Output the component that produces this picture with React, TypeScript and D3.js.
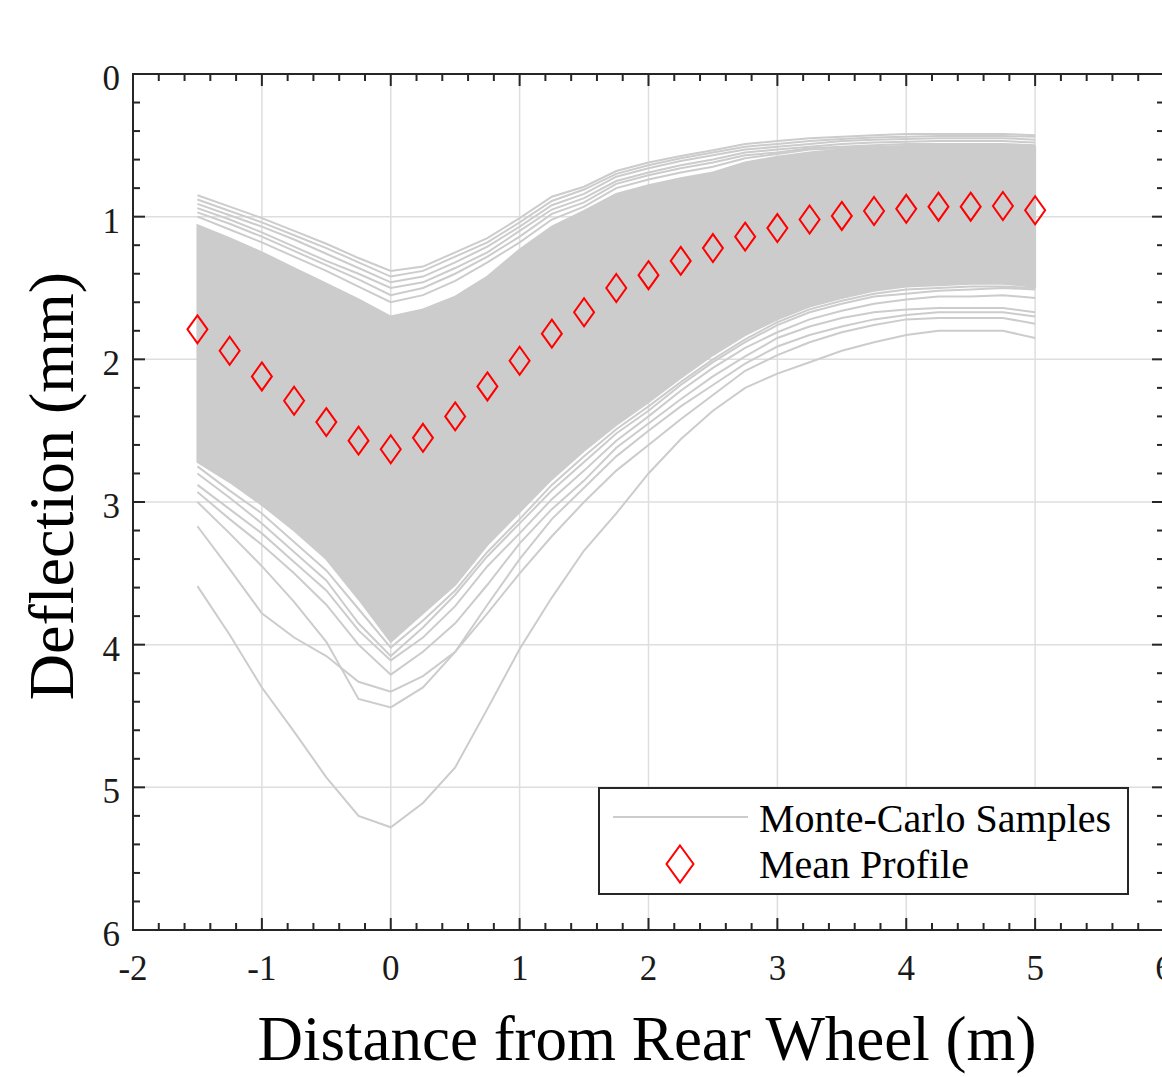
import React from 'react';
import * as d3 from 'd3';

// distance from rear wheel (m) at which every profile is sampled
const distances = [-1.5, -1.25, -1, -0.75, -0.5, -0.25, 0, 0.25, 0.5, 0.75, 1, 1.25, 1.5, 1.75, 2, 2.25, 2.5, 2.75, 3, 3.25, 3.5, 3.75, 4, 4.25, 4.5, 4.75, 5];

// mean deflection profile (mm)
const meanProfile = [1.79, 1.94, 2.12, 2.29, 2.44, 2.57, 2.63, 2.55, 2.40, 2.19, 2.01, 1.82, 1.67, 1.50, 1.41, 1.31, 1.22, 1.14, 1.08, 1.02, 0.995, 0.96, 0.945, 0.93, 0.93, 0.925, 0.955];

// dense core of the Monte-Carlo samples (upper / lower edge)
const bandUpper = [1.06, 1.15, 1.25, 1.36, 1.47, 1.58, 1.70, 1.65, 1.56, 1.42, 1.23, 1.07, 0.96, 0.84, 0.78, 0.73, 0.69, 0.62, 0.58, 0.55, 0.53, 0.52, 0.51, 0.505, 0.505, 0.505, 0.51];
const bandLower = [2.72, 2.86, 3.02, 3.20, 3.40, 3.68, 3.98, 3.78, 3.58, 3.30, 3.07, 2.84, 2.64, 2.46, 2.30, 2.13, 1.97, 1.83, 1.72, 1.63, 1.57, 1.52, 1.49, 1.48, 1.47, 1.47, 1.49];

// individual samples visible outside the dense core
const upperSample1 = [0.85, 0.93, 1.01, 1.10, 1.19, 1.29, 1.38, 1.35, 1.25, 1.15, 1.01, 0.86, 0.79, 0.68, 0.62, 0.575, 0.535, 0.49, 0.47, 0.45, 0.44, 0.43, 0.42, 0.42, 0.42, 0.42, 0.43];
const upperSample2 = [0.88, 0.96, 1.04, 1.13, 1.22, 1.32, 1.42, 1.38, 1.28, 1.18, 1.04, 0.89, 0.81, 0.70, 0.64, 0.59, 0.55, 0.51, 0.49, 0.47, 0.455, 0.445, 0.44, 0.435, 0.435, 0.435, 0.44];
const upperSample3 = [0.91, 0.99, 1.07, 1.16, 1.26, 1.36, 1.46, 1.42, 1.32, 1.21, 1.07, 0.92, 0.84, 0.72, 0.66, 0.61, 0.57, 0.53, 0.51, 0.49, 0.47, 0.46, 0.455, 0.45, 0.45, 0.45, 0.46];
const upperSample4 = [0.94, 1.02, 1.11, 1.21, 1.31, 1.40, 1.50, 1.46, 1.36, 1.25, 1.10, 0.95, 0.87, 0.75, 0.69, 0.64, 0.60, 0.55, 0.53, 0.51, 0.49, 0.48, 0.475, 0.47, 0.47, 0.47, 0.48];
const upperSample5 = [0.97, 1.05, 1.14, 1.24, 1.34, 1.44, 1.55, 1.50, 1.40, 1.28, 1.14, 0.98, 0.90, 0.77, 0.71, 0.66, 0.62, 0.57, 0.55, 0.52, 0.51, 0.50, 0.49, 0.49, 0.49, 0.49, 0.50];
const upperSample6 = [1.00, 1.09, 1.18, 1.28, 1.38, 1.49, 1.60, 1.55, 1.45, 1.32, 1.18, 1.02, 0.93, 0.80, 0.74, 0.69, 0.65, 0.59, 0.56, 0.53, 0.52, 0.51, 0.505, 0.50, 0.50, 0.50, 0.505];

const lowerSample1 = [3.59, 3.93, 4.30, 4.61, 4.93, 5.20, 5.28, 5.11, 4.86, 4.45, 4.03, 3.67, 3.34, 3.08, 2.80, 2.56, 2.36, 2.20, 2.10, 2.02, 1.94, 1.88, 1.83, 1.80, 1.80, 1.80, 1.85];
const lowerSample2 = [3.17, 3.47, 3.78, 3.95, 4.08, 4.26, 4.33, 4.22, 4.05, 3.78, 3.50, 3.24, 3.00, 2.78, 2.60, 2.42, 2.25, 2.08, 1.97, 1.88, 1.81, 1.76, 1.72, 1.71, 1.71, 1.71, 1.75];
const lowerSample3 = [3.00, 3.22, 3.45, 3.70, 3.98, 4.38, 4.44, 4.30, 4.05, 3.72, 3.40, 3.12, 2.90, 2.68, 2.50, 2.33, 2.18, 2.03, 1.91, 1.83, 1.77, 1.72, 1.69, 1.67, 1.67, 1.67, 1.70];
const lowerSample4 = [2.93, 3.12, 3.30, 3.50, 3.72, 4.00, 4.21, 4.05, 3.85, 3.58, 3.29, 3.05, 2.85, 2.62, 2.45, 2.28, 2.12, 1.98, 1.85, 1.77, 1.71, 1.67, 1.65, 1.64, 1.64, 1.64, 1.67];
const lowerSample5 = [2.88, 3.05, 3.22, 3.42, 3.62, 3.90, 4.11, 3.95, 3.73, 3.45, 3.22, 2.98, 2.78, 2.57, 2.40, 2.22, 2.06, 1.92, 1.81, 1.72, 1.66, 1.61, 1.58, 1.56, 1.56, 1.55, 1.57];
const lowerSample6 = [2.80, 2.97, 3.15, 3.35, 3.55, 3.85, 4.08, 3.88, 3.65, 3.38, 3.15, 2.92, 2.72, 2.52, 2.36, 2.18, 2.02, 1.88, 1.76, 1.67, 1.61, 1.56, 1.54, 1.52, 1.51, 1.50, 1.51];
const lowerSample7 = [2.75, 2.92, 3.08, 3.28, 3.48, 3.75, 4.02, 3.83, 3.62, 3.35, 3.12, 2.88, 2.68, 2.49, 2.33, 2.16, 2.00, 1.86, 1.74, 1.65, 1.59, 1.54, 1.51, 1.50, 1.49, 1.49, 1.50];

const samples = [
  upperSample1, upperSample2, upperSample3, upperSample4, upperSample5, upperSample6,
  lowerSample1, lowerSample2, lowerSample3, lowerSample4, lowerSample5, lowerSample6, lowerSample7,
];

const xTicks = [-2, -1, 0, 1, 2, 3, 4, 5, 6];
const yTicks = [0, 1, 2, 3, 4, 5, 6];

const W = 1162;
const H = 1077;
const SERIF = '"Liberation Serif", "Times New Roman", serif';
const GRAY = '#cccccc';
const AXIS = '#262626';

const App = () => {
  const x = d3.scaleLinear().domain([-2, 6]).range([133, 1164]);
  const y = d3.scaleLinear().domain([0, 6]).range([74, 930]);

  const line = d3.line<number>()
    .x((d, i) => x(distances[i]))
    .y(d => y(d));

  const band = d3.area<number>()
    .x((d, i) => x(distances[i]))
    .y0((d, i) => y(bandLower[i]))
    .y1(d => y(d));

  const [x0, x1] = x.range();
  const [y0, y1] = y.range();
  const xMinor = d3.range(-2, 6.001, 0.2);
  const yMinor = d3.range(0, 6.001, 0.2);

  const diamond = (cx: number, cy: number, w: number, h: number) =>
    `M${cx},${cy - h / 2}L${cx + w / 2},${cy}L${cx},${cy + h / 2}L${cx - w / 2},${cy}Z`;

  return (
    <div style={{ position: 'absolute', left: 0, top: 0 }}>
      <svg width={W} height={H} style={{ display: 'block', background: '#fff' }}>
        {/* grid */}
        {xTicks.map(t => (
          <line key={'gx' + t} x1={x(t)} x2={x(t)} y1={y0} y2={y1} stroke="#dedede" strokeWidth={1.5} />
        ))}
        {yTicks.map(t => (
          <line key={'gy' + t} x1={x0} x2={x1} y1={y(t)} y2={y(t)} stroke="#dedede" strokeWidth={1.5} />
        ))}

        {/* Monte-Carlo samples */}
        <path d={band(bandUpper) || ''} fill={GRAY} stroke={GRAY} strokeWidth={2} />
        {samples.map((s, i) => (
          <path key={'s' + i} d={line(s) || ''} fill="none" stroke={GRAY} strokeWidth={2} />
        ))}

        {/* mean profile */}
        {meanProfile.map((v, i) => (
          <path key={'m' + i} d={diamond(x(distances[i]), y(v), 20, 28)} fill="none" stroke="#ff0000" strokeWidth={2} />
        ))}

        {/* axes box */}
        <rect x={x0} y={y0} width={x1 - x0} height={y1 - y0} fill="none" stroke={AXIS} strokeWidth={2} />
        {xMinor.map((t, i) => {
          const major = i % 5 === 0;
          const len = major ? 12 : 7;
          return (
            <g key={'xt' + i}>
              <line x1={x(t)} x2={x(t)} y1={y1} y2={y1 - len} stroke={AXIS} strokeWidth={2} />
              <line x1={x(t)} x2={x(t)} y1={y0} y2={y0 + len} stroke={AXIS} strokeWidth={2} />
            </g>
          );
        })}
        {yMinor.map((t, i) => {
          const major = i % 5 === 0;
          const len = major ? 12 : 7;
          return (
            <g key={'yt' + i}>
              <line x1={x0} x2={x0 + len} y1={y(t)} y2={y(t)} stroke={AXIS} strokeWidth={2} />
              <line x1={x1} x2={x1 - len} y1={y(t)} y2={y(t)} stroke={AXIS} strokeWidth={2} />
            </g>
          );
        })}

        {/* tick labels */}
        {xTicks.map(t => (
          <text key={'xl' + t} x={x(t)} y={980} textAnchor="middle" fontFamily={SERIF} fontSize={35} fill="#1a1a1a">
            {t}
          </text>
        ))}
        {yTicks.map(t => (
          <text key={'yl' + t} x={120} y={y(t) + 16} textAnchor="end" fontFamily={SERIF} fontSize={35} fill="#1a1a1a">
            {t}
          </text>
        ))}

        {/* axis titles */}
        <text x={647} y={1060} textAnchor="middle" fontFamily={SERIF} fontSize={63} fill="#000">
          Distance from Rear Wheel (m)
        </text>
        <text transform={`translate(73,${486}) rotate(-90)`} textAnchor="middle" fontFamily={SERIF} fontSize={64} fill="#000">
          Deflection (mm)
        </text>

        {/* legend */}
        <rect x={599} y={788} width={529} height={106} fill="#fff" stroke={AXIS} strokeWidth={2} />
        <line x1={613} x2={748} y1={817} y2={817} stroke={GRAY} strokeWidth={2} />
        <text x={759} y={832} fontFamily={SERIF} fontSize={40} fill="#000">Monte-Carlo Samples</text>
        <path d={diamond(680, 864, 27, 37)} fill="none" stroke="#ff0000" strokeWidth={2} />
        <text x={759} y={878} fontFamily={SERIF} fontSize={40} fill="#000">Mean Profile</text>
      </svg>
    </div>
  );
};

export default App;
